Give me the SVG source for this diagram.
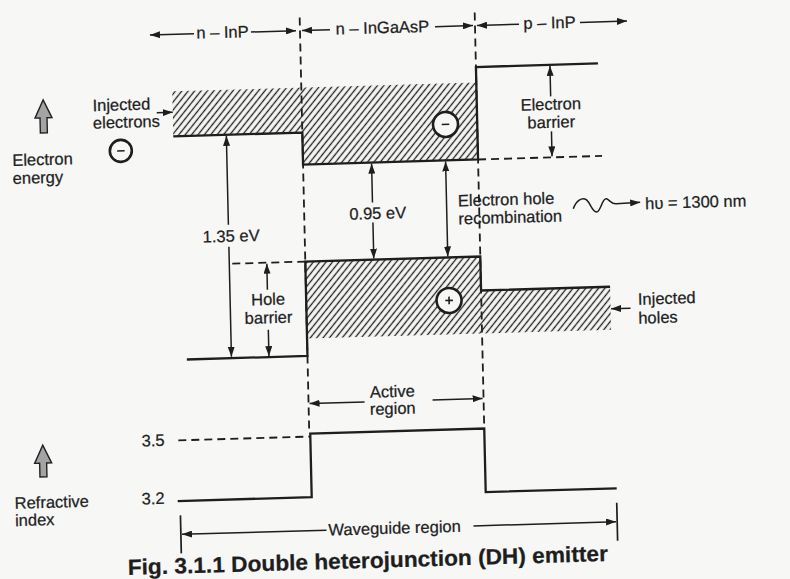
<svg xmlns="http://www.w3.org/2000/svg" width="790" height="579" viewBox="0 0 790 579">
<style>
text{font-family:"Liberation Sans",Arial,sans-serif;font-size:16.5px;fill:#1e1e1e;stroke:#1e1e1e;stroke-width:0.25}
.c{text-anchor:middle}
.t{font-weight:bold;font-size:22px}
.sl{fill:none;stroke:#1e1e1e;stroke-width:2.3;stroke-linejoin:miter}
.ar{fill:none;stroke:#1e1e1e;stroke-width:1.5}
.dl{fill:none;stroke:#1e1e1e;stroke-width:1.8;stroke-dasharray:8 5}
.ga{fill:#a4a4a4;stroke:#222;stroke-width:1.4}
.ci{fill:#f7f7f6;stroke:#1e1e1e;stroke-width:2.6}
.sg{stroke:#1e1e1e;stroke-width:1.6}
</style>
<defs>
<pattern id="hatch" patternUnits="userSpaceOnUse" width="5" height="10" patternTransform="rotate(40)">
<line x1="2.5" y1="-1" x2="2.5" y2="11" stroke="#222" stroke-width="1.35"/>
</pattern>
<marker id="ah" viewBox="0 0 10 7" refX="10" refY="3.5" markerWidth="10" markerHeight="7" markerUnits="userSpaceOnUse" orient="auto-start-reverse">
<path d="M0,0 L10,3.5 L0,7 z" fill="#1e1e1e"/>
</marker>
</defs>
<rect width="790" height="579" fill="#f7f7f6"/>
<g transform="matrix(1 -0.029 0.023 1 -6.67 11.455)">
<g id="header">
<line class="ar" x1="200" y1="28" x2="156" y2="28" marker-end="url(#ah)"/>
<text class="c" x="228.5" y="33">n – InP</text>
<line class="ar" x1="257" y1="28" x2="302" y2="28" marker-end="url(#ah)"/>
<line class="ar" x1="336" y1="28" x2="308" y2="28" marker-end="url(#ah)"/>
<text class="c" x="388.5" y="33">n – InGaAsP</text>
<line class="ar" x1="441" y1="28" x2="479" y2="28" marker-end="url(#ah)"/>
<line class="ar" x1="525" y1="28" x2="483" y2="28" marker-end="url(#ah)"/>
<text class="c" x="555.5" y="33">p – InP</text>
<line class="ar" x1="586" y1="28" x2="633" y2="28" marker-end="url(#ah)"/>
</g>
<g id="junctions">
<line class="dl" x1="306" y1="15" x2="306" y2="431"/>
<line class="dl" x1="481" y1="15" x2="481" y2="431"/>
</g>
<g id="conduction-band">
<polygon points="177,85 481,85 481,162 306,162 306,130 177,130" fill="url(#hatch)"/>
<polyline class="sl" points="177,130 306,130 306,162 481,162 481,69.5 603,69.5"/>
<line class="dl" x1="481" y1="162" x2="605" y2="162"/>
</g>
<g id="electron-barrier">
<line class="ar" x1="555" y1="101" x2="555" y2="70.5" marker-end="url(#ah)"/>
<line class="ar" x1="555" y1="136" x2="555" y2="161" marker-end="url(#ah)"/>
<text class="c" x="555" y="114.5">Electron</text>
<text class="c" x="555" y="132.5">barrier</text>
</g>
<g id="injected-electrons">
<text x="97" y="102.5">Injected</text>
<text x="97" y="120">electrons</text>
<line class="ar" x1="161" y1="106" x2="177" y2="106" marker-end="url(#ah)"/>
<circle class="ci" cx="124.2" cy="143" r="11"/>
<line class="sg" x1="120.5" y1="143" x2="128" y2="143"/>
</g>
<g id="electron-in-active">
<circle class="ci" cx="449.3" cy="126" r="12.5"/>
<line class="sg" x1="445.5" y1="126" x2="453" y2="126"/>
</g>
<g id="electron-energy">
<polygon class="ga" points="47.7,89.8 56.2,107.8 51.2,107.8 51.2,122.8 44.2,122.8 44.2,107.8 39.2,107.8"/>
<text x="15.5" y="155">Electron</text>
<text x="15.5" y="173">energy</text>
</g>
<g id="gap-135">
<line class="ar" x1="230" y1="220" x2="230" y2="131" marker-end="url(#ah)"/>
<line class="ar" x1="230" y1="242" x2="230" y2="352" marker-end="url(#ah)"/>
<text class="c" x="232.5" y="237">1.35 eV</text>
</g>
<g id="gap-095">
<line class="ar" x1="374.5" y1="202" x2="374.5" y2="163" marker-end="url(#ah)"/>
<line class="ar" x1="374.5" y1="222" x2="374.5" y2="258" marker-end="url(#ah)"/>
<text class="c" x="379.5" y="218.5">0.95 eV</text>
</g>
<g id="recombination">
<line class="ar" x1="448.5" y1="163" x2="448.5" y2="258" marker-start="url(#ah)" marker-end="url(#ah)"/>
<text x="460" y="208.3">Electron hole</text>
<text x="460" y="226.3">recombination</text>
</g>
<g id="photon">
<path class="ar" d="M575,214 C578,206 584,202 588.5,205.5 C592.5,209 594,218.5 598.5,217.8 C603,217 604,203.5 608.5,205 C612,206.5 613,210.5 618,210.3 L642,209.5" stroke-width="1.7" marker-end="url(#ah)"/>
<text x="647" y="216.5">hυ = 1300 nm</text>
</g>
<g id="valence-band">
<rect x="306" y="259" width="175" height="77" fill="url(#hatch)"/>
<rect x="481" y="293" width="129" height="43" fill="url(#hatch)"/>
<polyline class="sl" points="185.4,353.4 306,353.4 306,259 481,259 481,293 610,293"/>
<line class="dl" x1="233" y1="259" x2="306" y2="259"/>
</g>
<g id="hole-barrier">
<line class="ar" x1="267.5" y1="286" x2="267.5" y2="260" marker-end="url(#ah)"/>
<line class="ar" x1="267.5" y1="326" x2="267.5" y2="352.5" marker-end="url(#ah)"/>
<text class="c" x="268" y="301.3">Hole</text>
<text class="c" x="268" y="319.6">barrier</text>
</g>
<g id="hole-in-active">
<circle class="ci" cx="448.8" cy="302" r="12.5"/>
<line class="sg" x1="445" y1="302" x2="452.6" y2="302"/>
<line class="sg" x1="448.8" y1="298.2" x2="448.8" y2="305.8"/>
</g>
<g id="injected-holes">
<line class="ar" x1="630" y1="315" x2="610.5" y2="315" marker-end="url(#ah)"/>
<text x="637.5" y="311.8">Injected</text>
<text x="637.5" y="330.7">holes</text>
</g>
<g id="active-region">
<text class="c" x="390" y="397">Active</text>
<text class="c" x="390" y="414">region</text>
<line class="ar" x1="362" y1="401" x2="307" y2="401" marker-end="url(#ah)"/>
<line class="ar" x1="430" y1="401" x2="480" y2="401" marker-end="url(#ah)"/>
</g>
<g id="refractive-index">
<line class="dl" x1="175" y1="434" x2="307" y2="434"/>
<polyline class="sl" points="173,494.6 307,494.6 307,431 481,431 481,494.6 612,494.6"/>
<text x="138.4" y="439">3.5</text>
<text x="137" y="497">3.2</text>
<polygon class="ga" points="39.4,434.8 47.9,452.8 42.9,452.8 42.9,466.5 35.9,466.5 35.9,452.8 30.9,452.8"/>
<text x="10" y="497.7">Refractive</text>
<text x="10" y="515">index</text>
</g>
<g id="waveguide">
<line x1="175.4" y1="509" x2="175.4" y2="547" stroke="#1e1e1e" stroke-width="1.7"/>
<line x1="611.7" y1="509" x2="611.7" y2="547" stroke="#1e1e1e" stroke-width="1.7"/>
<line class="ar" x1="321" y1="528" x2="176.5" y2="528" marker-end="url(#ah)"/>
<line class="ar" x1="468" y1="528" x2="610.6" y2="528" marker-end="url(#ah)"/>
<text x="323" y="533.5">Waveguide region</text>
</g>
<text class="t" x="121.6" y="567" textLength="480" lengthAdjust="spacingAndGlyphs">Fig. 3.1.1 Double heterojunction (DH) emitter</text>
</g>
</svg>
